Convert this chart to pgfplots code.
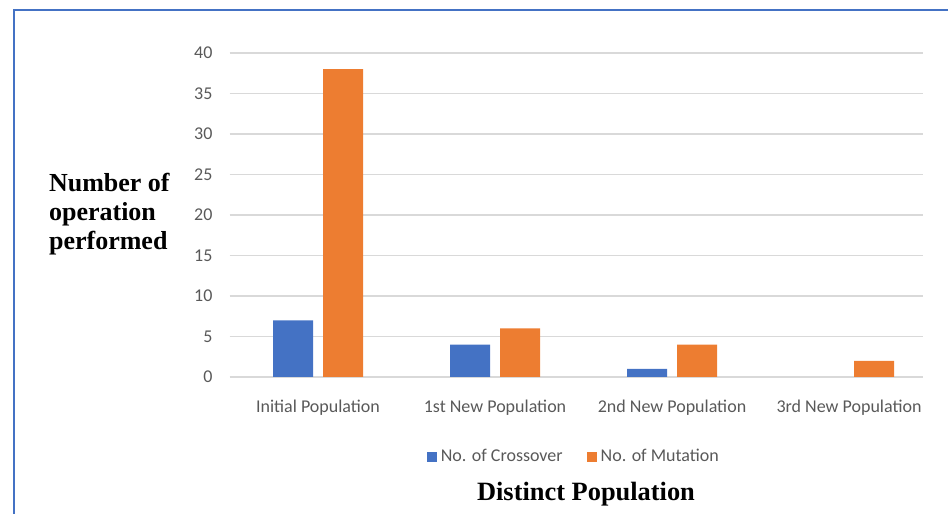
\documentclass[border=0pt]{standalone}
\usepackage{fontspec}
\setmainfont{Liberation Serif}
\newfontfamily\calibri{Carlito}
\usepackage{pgfplots}
\pgfplotsset{compat=1.18}
\definecolor{xlblue}{HTML}{4472C4}
\definecolor{xlorange}{HTML}{ED7D31}
\definecolor{ticktext}{HTML}{595959}
\definecolor{gridgray}{HTML}{D9D9D9}
\definecolor{framebl}{HTML}{4472C4}

\begin{document}
\begin{tikzpicture}
% page in pixels of the reference: 1px = 0.5pt, origin bottom left
\path[use as bounding box] (0,0) rectangle (474pt,257pt);
\draw[framebl, line width=1.1pt] ({14*0.5pt},0) -- ({14*0.5pt},{(514-10)*0.5pt}) -- (474pt,{(514-10)*0.5pt});

\begin{axis}[
  at={({229.5*0.5pt},{(514-377)*0.5pt})}, anchor=south west,
  scale only axis, width=346.75pt, height=162pt,
  ybar=5pt, bar width=20pt,
  xmin=-0.5, xmax=3.418, ymin=0, ymax=40,
  xtick={0,1,2,3},
  xticklabels={Initial Population, 1st New Population, 2nd New Population, 3rd New Population},
  ytick={0,5,...,40},
  ymajorgrids, grid style={gridgray, line width=0.8pt},
  axis line style={draw=none}, major tick length=0pt,
  ticklabel style={font=\calibri\fontsize{9}{11}\selectfont, text=ticktext},
  /pgf/number format/assume math mode=true,
  yticklabel style={xshift=-5pt},
  xticklabel style={yshift=-8pt},
  legend style={at={(0.498,-0.247)}, anchor=center, draw=none, fill=none,
    legend columns=2, font=\calibri\fontsize{9}{11}\selectfont, text=ticktext,
    /tikz/every even column/.append style={column sep=10pt}},
  legend image code/.code={\fill[#1] (0pt,-2.5pt) rectangle (5pt,2.5pt);},
]
\addplot[fill=xlblue, draw=none] coordinates {(0,7) (1,4) (2,1)};
\addplot[fill=xlorange, draw=none] coordinates {(0,38) (1,6) (2,4) (3,2)};
\legend{No. of Crossover, No. of Mutation}
\end{axis}

\node[anchor=west, align=left, font=\bfseries\fontsize{13}{14.5}\selectfont]
  at ({42*0.5pt},{(514-214)*0.5pt}) {Number of\\operation\\performed};
\node[font=\bfseries\fontsize{13.2}{15}\selectfont]
  at ({586*0.5pt},{(514-494)*0.5pt}) {Distinct Population};
\end{tikzpicture}
\end{document}
